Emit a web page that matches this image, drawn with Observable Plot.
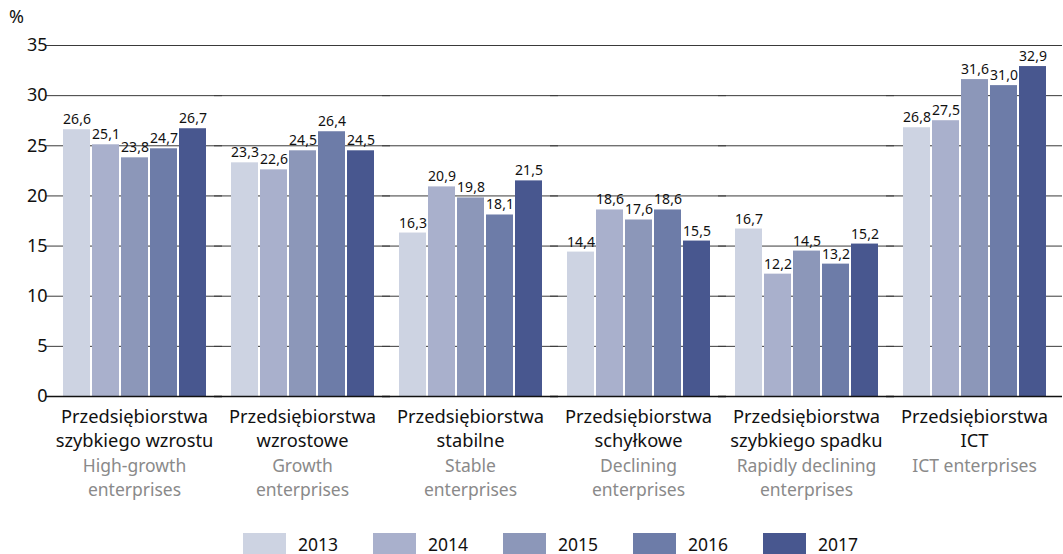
<!DOCTYPE html>
<html>
<head>
<meta charset="utf-8">
<script src="https://cdn.jsdelivr.net/npm/d3@7"></script>
<script src="https://cdn.jsdelivr.net/npm/@observablehq/plot@0.6"></script>
<style>
  body { margin: 0; background: #fff; font-family: "Noto Sans", sans-serif; }
  #wrap { position: relative; width: 1063px; height: 554px; overflow: hidden; }
  #pct { position: absolute; left: 9px; top: 6px; font-size: 18px; line-height: 20px; color: #111; }
  #legend { position: absolute; left: 243px; top: 533px; height: 21px; display: flex; align-items: center; }
  .item { display: flex; align-items: center; width: 130px; font-size: 17.5px; line-height: 20px; color: #111; }
  .sw { width: 43px; height: 21px; margin-right: 12px; flex: none; }
</style>
</head>
<body>
<div id="wrap">
  <div id="chart"></div>
  <div id="pct">%</div>
  <div id="legend"></div>
</div>
<script>
const categoriesPl = [
  "Przedsiębiorstwa\nszybkiego wzrostu",
  "Przedsiębiorstwa\nwzrostowe",
  "Przedsiębiorstwa\nstabilne",
  "Przedsiębiorstwa\nschyłkowe",
  "Przedsiębiorstwa\nszybkiego spadku",
  "Przedsiębiorstwa\nICT"
];
const categoriesEn = [
  "High-growth\nenterprises",
  "Growth\nenterprises",
  "Stable\nenterprises",
  "Declining\nenterprises",
  "Rapidly declining\nenterprises",
  "ICT enterprises"
];
const years = ["2013", "2014", "2015", "2016", "2017"];
const v2013 = [26.6, 23.3, 16.3, 14.4, 16.7, 26.8];
const v2014 = [25.1, 22.6, 20.9, 18.6, 12.2, 27.5];
const v2015 = [23.8, 24.5, 19.8, 17.6, 14.5, 31.6];
const v2016 = [24.7, 26.4, 18.1, 18.6, 13.2, 31.0];
const v2017 = [26.7, 24.5, 21.5, 15.5, 15.2, 32.9];
const yTicks = [0, 5, 10, 15, 20, 25, 30, 35];
const colors = ["#cdd3e2", "#a9b0cc", "#8c97b9", "#6d7ca8", "#48578f"];

const series = [v2013, v2014, v2015, v2016, v2017];
const data = [];
categoriesPl.forEach((c, i) => {
  years.forEach((y, j) => data.push({cat: c, year: y, value: series[j][i]}));
});
const cats = categoriesPl.map((c, i) => ({cat: c, pl: c, en: categoriesEn[i]}));
const fmt = v => v.toFixed(1).replace(".", ",");
const font = "Noto Sans, sans-serif";

const chart = Plot.plot({
  width: 1063,
  height: 520,
  marginLeft: 45,
  marginRight: 0,
  marginTop: 45,
  marginBottom: 124,
  style: {fontFamily: font, background: "#fff"},
  fx: {domain: categoriesPl, paddingInner: 0.14, paddingOuter: 0.09, axis: null, label: null},
  x: {domain: years, paddingInner: 0.07, paddingOuter: 0, axis: null},
  y: {domain: [0, 35], axis: null},
  color: {domain: years, range: colors},
  marks: [
    Plot.ruleY(yTicks.filter(d => d > 0), {stroke: "#3a3a3a", strokeWidth: 1, insetLeft: -16, insetRight: -16}),
    Plot.axisY({ticks: yTicks, tickSize: 0, tickPadding: 15, fontSize: 18, label: null, fill: "#111"}),
    Plot.barY(data, {fx: "cat", x: "year", y: "value", fill: "year"}),
    Plot.ruleY([0], {stroke: "#111", strokeWidth: 1.5, insetLeft: -16, insetRight: -16}),
    Plot.text(data, {fx: "cat", x: "year", y: "value", text: d => fmt(d.value), dy: -10, fontSize: 14, fill: "#111"}),
    Plot.text(cats, {fx: "cat", text: "pl", frameAnchor: "bottom", lineAnchor: "top", dy: 9, fontSize: 18.3, lineHeight: 1.33, fill: "#111"}),
    Plot.text(cats, {fx: "cat", text: "en", frameAnchor: "bottom", lineAnchor: "top", dy: 58, fontSize: 17.5, lineHeight: 1.4, fill: "#8a8a8a"})
  ]
});
document.getElementById("chart").appendChild(chart);

const legend = document.getElementById("legend");
years.forEach((y, j) => {
  const it = document.createElement("div");
  it.className = "item";
  const sw = document.createElement("div");
  sw.className = "sw";
  sw.style.background = colors[j];
  const t = document.createElement("span");
  t.textContent = y;
  it.appendChild(sw);
  it.appendChild(t);
  legend.appendChild(it);
});
</script>
</body>
</html>
